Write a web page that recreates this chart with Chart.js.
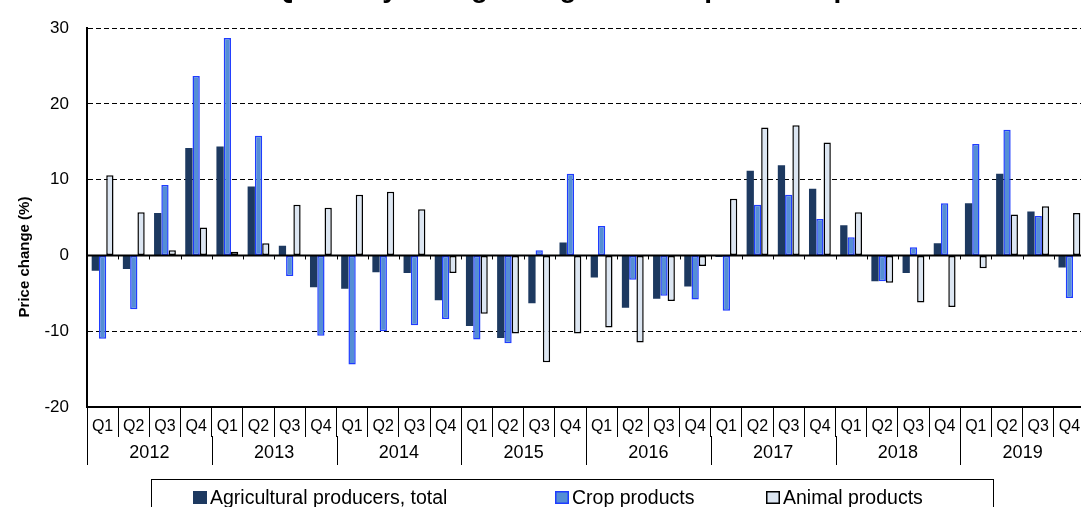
<!DOCTYPE html>
<html>
<head>
<meta charset="utf-8">
<script src="https://cdn.jsdelivr.net/npm/chart.js@4.4.1/dist/chart.umd.min.js"></script>
<style>
html,body{margin:0;padding:0;background:#fff;overflow:hidden;width:1081px;height:507px;}
#wrap{position:absolute;left:0;top:0;width:1085px;height:507px;}
</style>
</head>
<body>
<div id="wrap"><canvas id="c" width="1085" height="507"></canvas></div>
<script>
const chartTitle = 'Quarterly change in agricultural producer prices';
const yAxisTitle = 'Price change (%)';
const years = ['2012','2013','2014','2015','2016','2017','2018','2019'];
const quarters = ['Q1','Q2','Q3','Q4'];
const yTicks = [-20,-10,0,10,20,30];
const seriesNames = ['Agricultural producers, total','Crop products','Animal products'];
const totalValues = [-2.0,-1.8,5.6,14.2, 14.4,9.1,1.3,-4.2, -4.4,-2.2,-2.3,-5.9, -9.3,-10.9,-6.3,1.7, -2.9,-6.9,-5.7,-4.1, -0.2,11.2,11.9,8.8, 4.0,-3.4,-2.3,1.6, 6.9,10.8,5.8,-1.6];
const cropValues = [-11.0,-7.1,9.3,23.7, 28.7,15.8,-2.7,-10.6, -14.4,-10.0,-9.2,-8.4, -11.1,-11.6,0.7,10.8, 3.9,-3.2,-5.3,-5.8, -7.3,6.7,8.0,4.8, 2.4,-3.4,1.1,6.9, 14.7,16.6,5.2,-5.6];
const animalValues = [10.6,5.7,0.7,3.7, 0.5,1.6,6.7,6.3, 8.0,8.4,6.1,-2.3, -7.7,-10.3,-14.1,-10.3, -9.5,-11.5,-6.0,-1.4, 7.5,16.9,17.2,14.9, 5.7,-3.6,-6.2,-6.8, -1.7,5.4,6.5,5.6];

const labels = [];
years.forEach(y => quarters.forEach(q => labels.push(q)));

const FONT = "'Liberation Sans', Arial, sans-serif";
Chart.defaults.font.family = FONT;
Chart.defaults.color = '#000';

const extras = {
  id: 'extras',
  afterDatasetsDraw(chart) {
    const ctx = chart.ctx, xs = chart.scales.x, ys = chart.scales.y, a = chart.chartArea;
    const y0 = ys.getPixelForValue(0);
    const n = labels.length;
    const cw = (a.right - a.left) / n;
    ctx.save();
    ctx.strokeStyle = '#000'; ctx.lineWidth = 2;
    ctx.beginPath(); ctx.moveTo(a.left, y0); ctx.lineTo(a.right, y0); ctx.stroke();
    ctx.lineWidth = 1;
    for (let i = 1; i < n; i++) {
      const x = Math.round(xs.getPixelForValue(i) - cw / 2) + 0.5;
      ctx.beginPath(); ctx.moveTo(x, y0); ctx.lineTo(x, y0 + 4); ctx.stroke();
    }
    ctx.restore();
  },
  afterDraw(chart) {
    const ctx = chart.ctx, xs = chart.scales.x, a = chart.chartArea;
    const n = labels.length;
    const cw = (a.right - a.left) / n;
    ctx.save();
    // year row
    ctx.strokeStyle = '#000'; ctx.lineWidth = 1;
    const top = a.bottom + 29, bot = a.bottom + 58;
    for (let k = 0; k <= years.length; k++) {
      const x = Math.round(xs.getPixelForValue(k * 4) - cw / 2) + 0.5;
      ctx.beginPath(); ctx.moveTo(x, top); ctx.lineTo(x, bot); ctx.stroke();
    }
    ctx.fillStyle = '#000';
    ctx.font = '18px ' + FONT;
    ctx.textAlign = 'center'; ctx.textBaseline = 'middle';
    years.forEach((yr, k) => {
      const x = (xs.getPixelForValue(k * 4) + xs.getPixelForValue(k * 4 + 3)) / 2;
      ctx.fillText(yr, x, a.bottom + 46);
    });
    // y axis title
    ctx.save();
    ctx.translate(25, 257);
    ctx.rotate(-Math.PI / 2);
    ctx.font = 'bold 15px ' + FONT;
    ctx.fillText(yAxisTitle, 0, 0);
    ctx.restore();
    // title (cut off at the top like the reference)
    ctx.font = 'bold 28px ' + FONT;
    ctx.textAlign = 'left'; ctx.textBaseline = 'alphabetic';
    const wY = ctx.measureText('Quarterl').width + ctx.measureText('y').width / 2;
    const pre = chartTitle.slice(0, chartTitle.lastIndexOf('p'));
    const wP = ctx.measureText(pre).width + ctx.measureText('p').width / 2;
    const x0 = 616 - (wY + wP) / 2;
    ctx.fillText(chartTitle, x0, -3);
    // legend
    ctx.strokeStyle = '#000'; ctx.lineWidth = 1;
    ctx.strokeRect(151.5, 479.5, 842, 40);
    ctx.font = '19.5px ' + FONT;
    const itemX = [193, 555, 766];
    chart.data.datasets.forEach((ds, i) => {
      const x = itemX[i];
      ctx.fillStyle = ds.borderWidth ? ds.borderColor : ds.backgroundColor;
      ctx.fillRect(x, 491, 14, 13);
      if (ds.borderWidth) {
        ctx.fillStyle = ds.backgroundColor;
        ctx.fillRect(x + 1.5, 492.5, 11, 10);
      }
      ctx.fillStyle = '#000';
      ctx.fillText(ds.label, x + 17, 504);
    });
    ctx.restore();
  }
};

new Chart(document.getElementById('c'), {
  type: 'bar',
  data: {
    labels: labels,
    datasets: [
      { label: seriesNames[0], data: totalValues, backgroundColor: '#1d3960', borderWidth: 0 },
      { label: seriesNames[1], data: cropValues, backgroundColor: '#558ed5', borderColor: '#1f3cff', borderWidth: 1.5, borderSkipped: false },
      { label: seriesNames[2], data: animalValues, backgroundColor: '#dce6f2', borderColor: '#000000', borderWidth: 1.5, borderSkipped: false }
    ]
  },
  options: {
    responsive: false,
    animation: false,
    devicePixelRatio: 1,
    layout: { padding: { top: 21, left: 0, right: 0, bottom: 0 } },
    datasets: { bar: { categoryPercentage: 0.7, barPercentage: 1.0 } },
    plugins: { legend: { display: false }, title: { display: false }, tooltip: { enabled: false } },
    scales: {
      x: {
        offset: true,
        grid: { offset: true, drawOnChartArea: false, tickLength: 30, color: '#000', lineWidth: 1 },
        border: { color: '#000', width: 2 },
        ticks: { font: { size: 16 }, color: '#000', padding: -20, maxRotation: 0, autoSkip: false },
        afterFit: s => { s.height = 100; }
      },
      y: {
        min: -20, max: 30,
        afterBuildTicks: s => { s.ticks = yTicks.map(v => ({ value: v })); },
        grid: {
          drawTicks: false,
          color: c => (c.tick && (c.tick.value === 0 || c.tick.value === -20)) ? 'rgba(0,0,0,0)' : '#000',
          lineWidth: 1
        },
        border: { color: '#000', width: 2, dash: [5, 3] },
        ticks: { font: { size: 17 }, color: '#000', padding: 18 },
        afterFit: s => { s.width = 87; }
      }
    }
  },
  plugins: [extras]
});
</script>
</body>
</html>
